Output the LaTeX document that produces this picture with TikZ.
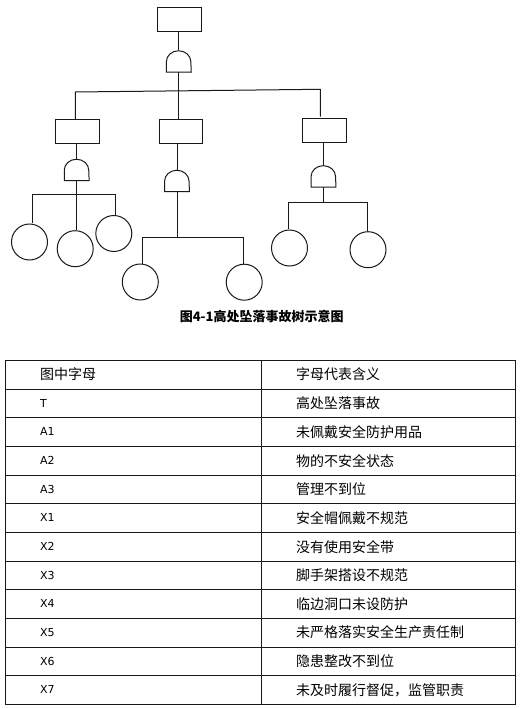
\documentclass[tikz,border=0pt]{standalone}
\usepackage{fontspec}
\setmainfont{Noto Sans CJK SC}
\newfontfamily\latinfont{DejaVu Sans}
\newcommand\andgateshape[1]{\draw[conn] (#1.south west) -- ++(0pt,10.5pt) arc[start angle=180,end angle=0,x radius=12.25pt,y radius=11pt] -- (#1.south east) -- cycle;}
\begin{document}
\begin{tikzpicture}[x=1pt,y=-1pt,
  conn/.style={line width=1pt,draw=black!90},
  evt/.style={draw=black!90,line width=1pt,rectangle,minimum width=44pt,minimum height=24pt,inner sep=0pt},
  basic/.style={draw=black!90,line width=1pt,circle,minimum size=36pt,inner sep=0pt},
  gatebox/.style={minimum width=24.5pt,minimum height=21.5pt,inner sep=0pt},
  tbl/.style={line width=0.8pt,draw=black!90},
  cjkcell/.style={anchor=west,inner sep=0pt,font=\fontsize{14}{16}\selectfont},
  latcell/.style={anchor=west,inner sep=0pt,font=\latinfont\fontsize{11}{13}\selectfont}]
\useasboundingbox (0,0) rectangle (521,708);
% events
\node[evt] (T) at (179.3,19.3) {};
\node[gatebox] (G0) at (178.8,61.3) {};
\andgateshape{G0}
\node[evt] (A1) at (77.3,131.3) {};
\node[evt,minimum width=43pt] (A2) at (180.8,131.3) {};
\node[evt] (A3) at (324.3,130.3) {};
\node[gatebox] (G1) at (76.7,169.8) {};
\andgateshape{G1}
\node[gatebox] (G2) at (177,180.8) {};
\andgateshape{G2}
\node[gatebox] (G3) at (323.5,176.2) {};
\andgateshape{G3}
\node[basic] (X1) at (29.5,242) {};
\node[basic] (X2) at (75.2,248.7) {};
\node[basic] (X3) at (113.8,233.5) {};
\node[basic] (X4) at (140.3,282) {};
\node[basic] (X5) at (244.2,282.2) {};
\node[basic] (X6) at (289.5,248) {};
\node[basic] (X7) at (368,249.7) {};
% connectors
\coordinate (b0L) at (75.3,92);
\coordinate (b0R) at (320.3,89.3);
\coordinate (b1L) at (32.3,194.3);
\coordinate (b1R) at (115.3,194.3);
\coordinate (b2L) at (142,237.3);
\coordinate (b2R) at (243.7,237.3);
\coordinate (b3L) at (288.7,202.3);
\coordinate (b3R) at (367.7,202.3);
\draw[conn] (T.south -| G0) -- (G0.north);
\draw[conn] (G0.south) -- (G0.south |- A2.north);
\draw[conn] (b0L |- A1.north) -- (b0L) -- (b0R) -- (320.3,116.7);
\draw[conn] (A1.south -| G1) -- (G1.north);
\draw[conn] (G1.south) -- (G1.south |- X2.north);
\draw[conn] (b1L |- X1.north) -- (b1L) -- (b1R) -- (b1R |- X3.north);
\draw[conn] (A2.south -| G2) -- (G2.north);
\draw[conn] (G2.south) -- (G2.south |- b2L);
\draw[conn] (b2L |- X4.north) -- (b2L) -- (b2R) -- (b2R |- X5.north);
\draw[conn] (A3.south -| G3) -- (G3.north);
\draw[conn] (G3.south) -- (G3.south |- b3L);
\draw[conn] (b3L |- X6.north) -- (b3L) -- (b3R) -- (b3R |- X7.north);
% caption
\node[font=\bfseries\fontsize{13}{15}\selectfont] (cap) at (261.7,316.7) {图4-1高处坠落事故树示意图};
% table
\draw[tbl] (5.3,360.3) rectangle (515,704.3);
\foreach \i in {1,...,11} \draw[tbl] (5.3,{360.3+\i*28.667}) -- (515,{360.3+\i*28.667});
\draw[tbl] (261.3,360.3) -- (261.3,704.3);
\node[cjkcell] (h1) at (40,374.6) {图中字母};
\node[cjkcell] (h2) at (296,374.6) {字母代表含义};
\foreach \l/\r [count=\i] in {T/高处坠落事故,A1/未佩戴安全防护用品,A2/物的不安全状态,A3/管理不到位,X1/安全帽佩戴不规范,X2/没有使用安全带,X3/脚手架搭设不规范,X4/临边洞口未设防护,X5/未严格落实安全生产责任制,X6/隐患整改不到位,X7/未及时履行督促，监管职责}{
  \node[latcell] (l\i) at (40,{360.3+(\i+0.5)*28.667}) {\l};
  \node[cjkcell] (r\i) at (296,{360.3+(\i+0.5)*28.667}) {\r};
}
\end{tikzpicture}
\end{document}
